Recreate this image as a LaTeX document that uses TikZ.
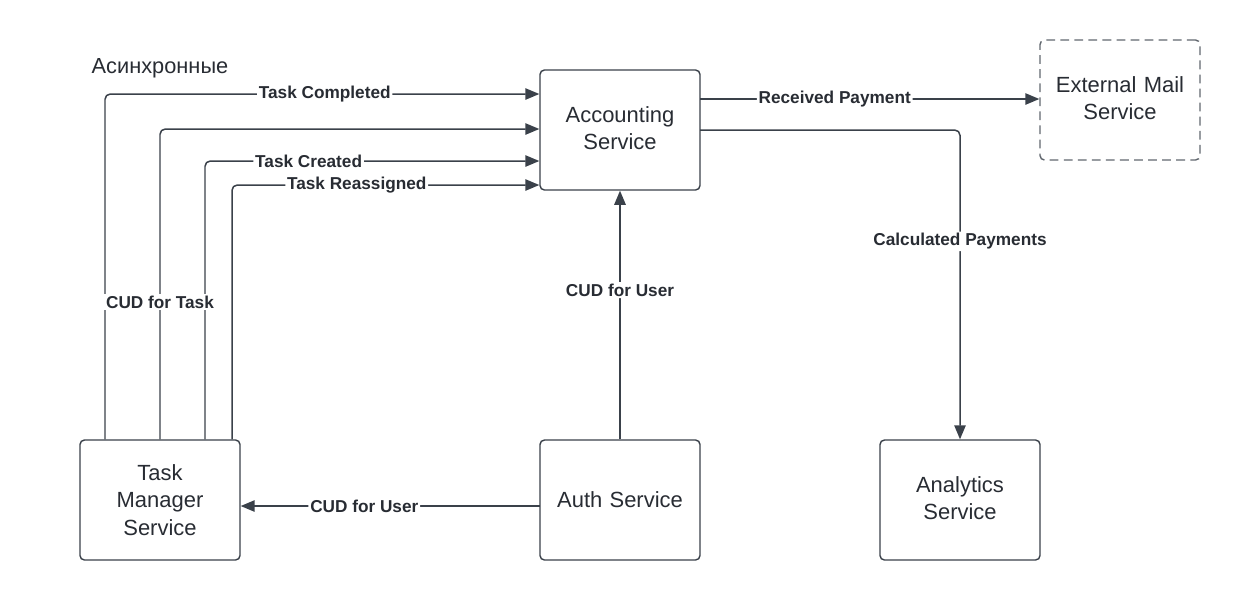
\documentclass[tikz,border=0pt]{standalone}
\usepackage{fontspec}
\setmainfont{Liberation Sans}
\usetikzlibrary{arrows.meta}
\definecolor{ln}{HTML}{3A414A}
\definecolor{tx}{HTML}{282C33}
\begin{document}
\begin{tikzpicture}[x=0.02cm,y=-0.02cm,
  svc/.style={draw=ln,line width=0.8pt,rounded corners=2.5pt,minimum width=3.2cm,minimum height=2.4cm,inner sep=0pt,text width=2.9cm,align=center,font=\fontsize{12.5}{15.5}\selectfont,text=tx},
  ext/.style={svc,dashed,dash pattern=on 5pt off 3pt,draw=ln!80},
  conn/.style={draw=ln,line width=0.85pt,rounded corners=3pt},
  arr/.style={conn,-{Triangle[length=8pt,width=6.5pt]}},
  lbl/.style={fill=white,inner sep=1pt,font=\fontsize{9.8}{12}\selectfont\bfseries,text=tx}]
\useasboundingbox (0,0) rectangle (1240,600);
\node[svc] (acc) at (620,130) {Accounting\\Service\vphantom{p}};
\node[ext] (mail) at (1120,100) {External Mail\\Service\vphantom{p}};
\node[svc] (tm) at (160,500) {Task\\Manager\\Service};
\node[svc] (auth) at (620,500) {Auth Service};
\node[svc] (ana) at (960,500) {Analytics\\Service\vphantom{p}};
\node[font=\fontsize{12.4}{15}\selectfont,text=tx] (asy) at (160,68) {Асинхронные};
% TM -> Accounting
\coordinate (c1) at (105,94);
\draw[arr] (tm.north -| c1) |- (acc.west |- c1) node[lbl,pos=0.753] {Task Completed};
\coordinate (c2) at (160,129);
\draw[arr] (tm.north -| c2) |- (acc.west |- c2);
\coordinate (c3) at (205,161);
\draw[arr] (tm.north -| c3) |- (acc.west |- c3) node[lbl,pos=0.655] {Task Created};
\coordinate (c4) at (232,185);
\draw[arr] (tm.north -| c4) |- (acc.west |- c4) node[lbl,pos=0.703] {Task Reassigned};
\node[lbl] (cudt) at (160,302) {CUD for Task};
% Accounting -> Mail
\coordinate (c5) at (700,99);
\draw[arr] (c5) -- (mail.west |- c5) node[lbl,pos=0.397] {Received Payment};
% Accounting -> Analytics
\coordinate (c6) at (700,130);
\draw[arr] (c6) -| (ana.north) node[lbl,pos=0.68] {Calculated Payments};
% Auth -> Accounting
\draw[arr] (auth.north) -- (acc.south) node[lbl,pos=0.6] {CUD for User};
% Auth -> TM
\coordinate (c7) at (540,506);
\draw[arr] (c7) -- (tm.east |- c7) node[lbl,pos=0.587] {CUD for User};
\end{tikzpicture}
\end{document}
